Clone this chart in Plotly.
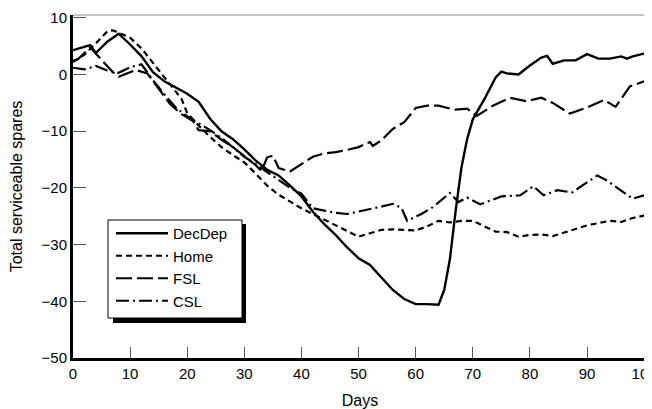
import plotly.graph_objects as go

# ---- data ----
decdep_days = [0, 2, 3, 4, 6, 8, 10, 12, 14, 16, 18, 20, 22, 24, 26, 28, 30, 32, 34, 36, 38, 40,
               42, 44, 46, 48, 50, 52, 54, 56, 58, 60, 62, 64, 65, 66, 67, 68, 69, 70, 72, 74,
               75, 76, 78, 80, 82, 83, 84, 86, 88, 90, 92, 94, 96, 97, 98, 100]
decdep_vals = [4.3, 4.9, 5.2, 3.8, 5.8, 7.2, 5.3, 3.2, 0.4, -1.2, -2.3, -3.4, -4.8, -7.8, -10, -11.4,
               -13.2, -15.2, -16.8, -17.8, -19.6, -21.5, -24.2, -26.4, -28.3, -30.5, -32.4, -33.6,
               -35.8, -38, -39.6, -40.5, -40.5, -40.6, -38, -32.5, -24, -16.5, -11.4, -7.9, -4.4,
               -0.5, 0.5, 0.2, 0, 1.6, 3.0, 3.3, 1.9, 2.5, 2.5, 3.6, 2.8, 2.8, 3.2, 2.8, 3.2, 3.7]

home_days = [0, 2, 4, 6, 7, 8, 10, 12, 14, 16, 18, 19, 20, 22, 24, 26, 28, 30, 32, 34, 36, 38, 40,
             42, 44, 46, 48, 50, 52, 54, 56, 58, 60, 62, 64, 66, 68, 70, 72, 74, 76, 78, 80, 82,
             84, 86, 88, 90, 92, 94, 96, 98, 100]
home_vals = [2.2, 3.5, 5.5, 7.6, 7.8, 7.4, 6.5, 4.6, 2.0, -0.5, -3.0, -4.3, -6.8, -9.0, -11.0, -12.8,
             -14.2, -15.5, -17.5, -19.6, -21.2, -22.4, -23.6, -24.6, -25.6, -26.6, -27.5, -28.6,
             -28.0, -27.4, -27.3, -27.4, -27.5, -26.8, -25.8, -26.1, -25.8, -25.8, -26.8, -27.7,
             -27.8, -28.6, -28.3, -28.2, -28.5, -27.9, -27.2, -26.6, -26.2, -25.8, -26.0, -25.3, -24.9]

fsl_days = [0, 1, 3, 5, 7, 8, 10, 11, 13, 15, 17, 19, 21, 22, 24, 26, 28, 30, 32, 33, 34, 35, 36,
            38, 40, 42, 44, 46, 48, 50, 52, 52.5, 54, 56, 58, 60, 62, 64, 66, 67, 69, 70.7, 73.5,
            76.5, 79.3, 82, 84, 87, 90, 93, 95, 97.5, 100]
fsl_vals = [2.4, 2.8, 4.8, 2.6, 0.4, -0.4, 0.4, 0.8, 0.2, -2.5, -5.2, -7.0, -8.2, -9.8, -10.0, -11.5,
            -12.8, -14.4, -16.0, -17.0, -14.6, -14.3, -16.5, -17.1, -15.8, -14.5, -13.9, -13.7,
            -13.3, -12.8, -11.9, -12.6, -11.6, -9.6, -8.4, -5.9, -5.5, -5.5, -6.0, -6.2, -6.0,
            -7.3, -5.5, -4.1, -4.7, -4.1, -5.0, -6.9, -5.8, -4.5, -5.7, -2.1, -1.2]

csl_days = [0, 2, 4, 6, 8, 10, 12, 14, 16, 18, 20, 22, 24, 26, 28, 30, 32, 34, 36, 38, 40, 42, 44,
            46, 48, 50, 52, 54, 56, 57.5, 58.5, 61, 63, 66, 67.5, 69, 71.3, 75, 78.3, 80.6, 82.4,
            84.8, 87.4, 90, 91.8, 93.5, 96, 98, 100]
csl_vals = [1.2, 0.9, 1.5, 0.7, 0.3, 1.3, 1.8, -1.0, -3.5, -5.8, -7.4, -8.6, -9.8, -11.2, -12.8, -14.5,
            -15.8, -17.2, -18.6, -20.0, -21.0, -23.6, -24.0, -24.4, -24.6, -24.2, -23.8, -23.3,
            -22.8, -23.5, -25.8, -24.6, -23.4, -20.9, -22.5, -21.7, -22.9, -21.5, -21.3, -19.7,
            -21.3, -20.4, -20.8, -19.0, -17.8, -18.7, -20.4, -21.9, -21.3]

x_ticks = [0, 10, 20, 30, 40, 50, 60, 70, 80, 90, 100]
y_ticks = [-50, -40, -30, -20, -10, 0, 10]

FONT = "Liberation Sans, Arial, sans-serif"

fig = go.Figure()
series = [
    ("DecDep", decdep_days, decdep_vals, "solid", 2.4),
    ("Home", home_days, home_vals, "6px,4px", 2.2),
    ("FSL", fsl_days, fsl_vals, "16px,5px", 2.2),
    ("CSL", csl_days, csl_vals, "13px,4px,2px,4px", 2.2),
]
for name, xs, ys, dash, w in series:
    fig.add_trace(go.Scatter(x=xs, y=ys, mode="lines", name=name,
                             line=dict(color="black", width=w, dash=dash)))

# The page body has an 8px margin, so the figure is offset by 8px.
# Target plot area on the page: left 73, right 647, top 15, bottom 358
PW, PH = 574.0, 343.0

def px_x(p):
    return (p - 73) / PW

def px_y(p):
    return (358 - p) / PH

fig.update_layout(
    width=644, height=401,
    margin=dict(l=65, r=5, t=7, b=51),
    paper_bgcolor="white", plot_bgcolor="white",
    font=dict(family=FONT, size=15, color="black"),
    showlegend=True,
    legend=dict(x=px_x(111), y=px_y(217), xanchor="left", yanchor="top",
                bgcolor="rgba(0,0,0,0)", borderwidth=0,
                font=dict(size=15), itemwidth=52, tracegroupgap=0),
    xaxis=dict(range=[0, 100.5], tickvals=x_ticks, ticks="inside", ticklen=11,
               tickcolor="#555", tickwidth=1, showline=True, linewidth=3, linecolor="black",
               showgrid=False, zeroline=False, tickfont=dict(size=15), automargin=False,
               ticklabeloverflow="allow",
               title=dict(text="Days", font=dict(size=16))),
    yaxis=dict(range=[-50, 10.5], tickvals=y_ticks, ticks="inside", ticklen=13,
               tickcolor="#555", tickwidth=1, showline=True, linewidth=3, linecolor="black",
               showgrid=False, zeroline=False, tickfont=dict(size=15), automargin=False,
               title=dict(text="Total serviceable spares", font=dict(size=16))),
    shapes=[
        dict(type="line", xref="paper", yref="paper", x0=0, x1=1, y0=1, y1=1,
             line=dict(color="#888", width=1)),
        dict(type="line", xref="paper", yref="paper", x0=1, x1=1, y0=0, y1=1,
             line=dict(color="#888", width=1)),
        # legend shadow and frame
        dict(type="rect", xref="paper", yref="paper", layer="above",
             x0=px_x(113), x1=px_x(246), y0=px_y(323), y1=px_y(224),
             fillcolor="black", line=dict(width=0)),
        dict(type="rect", xref="paper", yref="paper", layer="above",
             x0=px_x(108), x1=px_x(242), y0=px_y(318), y1=px_y(220),
             fillcolor="white", line=dict(color="black", width=1)),
    ],
)

fig.write_html("out.html")
